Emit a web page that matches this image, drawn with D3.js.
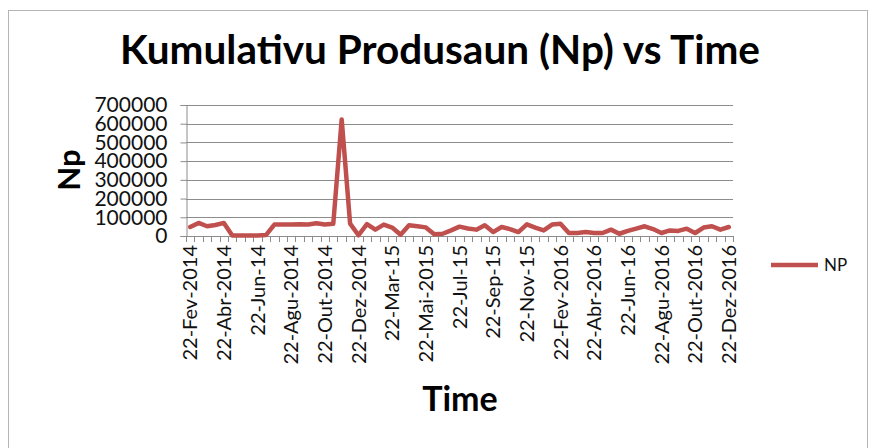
<!DOCTYPE html>
<html><head><meta charset="utf-8">
<script src="https://cdn.jsdelivr.net/npm/d3@7"></script>
<style>body{margin:0;background:#fff}svg{display:block}</style>
</head><body>
<svg id="c" width="876" height="448"></svg>
<script>
const titleText = "Kumulativu Produsaun (Np) vs Time";
const yTitle = "Np";
const xTitle = "Time";
const seriesName = "NP";
const tickLabels = ["22-Fev-2014","22-Abr-2014","22-Jun-14","22-Agu-2014","22-Out-2014","22-Dez-2014","22-Mar-15","22-Mai-2015","22-Jul-15","22-Sep-15","22-Nov-15","22-Fev-2016","22-Abr-2016","22-Jun-16","22-Agu-2016","22-Out-2016","22-Dez-2016"];
const labelEvery = 4;
const npValues = [48000,70000,52000,59000,70000,3000,3000,3000,3000,5000,
  61000,61000,62000,63000,61000,68000,61000,65000,623000,66000,
  4000,63000,34000,61000,45000,7000,57000,52000,46000,9000,
  12000,30000,50000,40000,34000,57000,21000,48000,37000,21000,
  62000,45000,30000,61000,66000,16000,16000,21000,16000,16000,
  34000,12000,27000,39000,52000,37000,16000,30000,27000,39000,
  16000,45000,52000,34000,48000];
const yTicks = [0,100000,200000,300000,400000,500000,600000,700000];
const categories = npValues.map((d,i)=>i);

const svg = d3.select("#c");
const font = "Lato, 'Open Sans', sans-serif";
const L = 186, R = 733, T = 105, B = 236;
const lineColor = "#C0504D";

svg.append("rect").attr("x",8.5).attr("y",10.5).attr("width",859).attr("height",460)
  .attr("fill","#fff").attr("stroke","#b5b5b5");

const x = d3.scaleBand().domain(categories).range([L,R]).padding(0);
const y = d3.scaleLinear().domain([0,700000]).range([B,T]);

// gridlines
svg.append("g").selectAll("line").data(yTicks.slice(1)).join("line")
  .attr("x1",L).attr("x2",R).attr("y1",d=>Math.round(y(d))+0.5).attr("y2",d=>Math.round(y(d))+0.5)
  .attr("stroke","#8c8c8c").attr("stroke-width",1);

// y axis
const yAxis = d3.axisLeft(y).tickValues(yTicks).tickSize(6).tickPadding(13).tickFormat(d3.format("d"));
const gy = svg.append("g").attr("transform",`translate(${L+0.5},0)`).call(yAxis);
gy.select(".domain").attr("stroke","#8c8c8c");
gy.selectAll(".tick line").attr("stroke","#8c8c8c");
gy.selectAll(".tick text").attr("font-family",font).attr("font-size",21).attr("fill","#111");

// x axis: ticks at category boundaries
const boundaries = d3.range(categories.length+1).map(i=>L + i*x.bandwidth());
svg.append("line").attr("x1",L).attr("x2",R).attr("y1",B+0.5).attr("y2",B+0.5).attr("stroke","#8c8c8c");
svg.append("g").selectAll("line").data(boundaries).join("line")
  .attr("x1",d=>Math.round(d)+0.5).attr("x2",d=>Math.round(d)+0.5).attr("y1",B).attr("y2",B+6)
  .attr("stroke","#8c8c8c");

// x labels
const labelData = tickLabels.map((t,k)=>({t, i:k*labelEvery}));
svg.append("g").selectAll("text").data(labelData).join("text")
  .attr("transform",d=>`translate(${x(d.i)+x.bandwidth()/2},${B+9}) rotate(-90)`)
  .attr("text-anchor","end").attr("dy","0.36em")
  .attr("font-family",font).attr("font-size",20).attr("fill","#111")
  .text(d=>d.t);

// line
const line = d3.line().x((d,i)=>x(i)+x.bandwidth()/2).y(d=>y(d));
svg.append("path").datum(npValues).attr("d",line).attr("fill","none")
  .attr("stroke",lineColor).attr("stroke-width",4.5).attr("stroke-linejoin","round").attr("stroke-linecap","round");

// title
const tt = svg.append("text").attr("x",440).attr("y",64).attr("text-anchor","middle")
  .attr("font-family",font).attr("font-weight","bold").attr("font-size",34).attr("fill","#000").text(titleText);
const tw = tt.node().getComputedTextLength();
tt.attr("font-size",34*640/tw);

// axis titles
svg.append("text").attr("transform","translate(80,170) rotate(-90)").attr("text-anchor","middle")
  .attr("font-family",font).attr("font-weight","bold").attr("font-size",31).attr("fill","#000").text(yTitle);
svg.append("text").attr("x",460).attr("y",411).attr("text-anchor","middle")
  .attr("font-family",font).attr("font-weight","bold").attr("font-size",34).attr("fill","#000").text(xTitle);

// legend
svg.append("line").attr("x1",771).attr("x2",818).attr("y1",265).attr("y2",265)
  .attr("stroke",lineColor).attr("stroke-width",4.5);
svg.append("text").attr("x",824).attr("y",271).attr("font-family",font).attr("font-size",17).attr("fill","#111").text(seriesName);
</script>
</body></html>
